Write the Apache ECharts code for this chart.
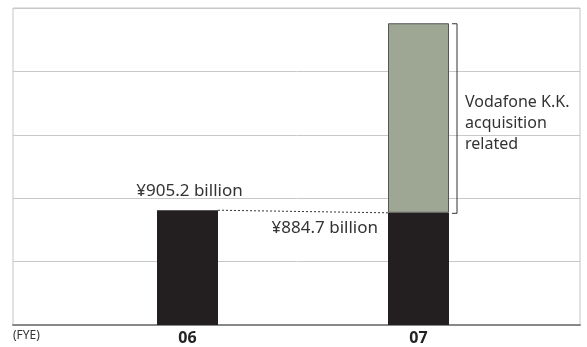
<!DOCTYPE html>
<html><head><meta charset="utf-8">
<script src="https://cdn.jsdelivr.net/npm/echarts@6/dist/echarts.min.js"></script>
<style>html,body{margin:0;padding:0;background:#fff}#c{width:587px;height:347px}</style>
</head><body><div id="c"></div>
<script>
const categories = ['06', '07'];
const baseValues = [905.2, 884.7];
const acquisitionValues = [null, 1495];
const baseLabels = ['¥905.2 billion', '¥884.7 billion'];
const bracketText = 'Vodafone K.K.\nacquisition\nrelated';
const unitLabel = '(FYE)';
const yMax = 2500, yInterval = 500;

const FONT = '"Noto Sans", "Open Sans", sans-serif';
const chart = echarts.init(document.getElementById('c'), null, {renderer: 'canvas'});
const BW = 61;
const option = {
  animation: false,
  grid: [
    {left: 13, right: 7, top: 8, bottom: 22, show: true, borderColor: '#c4c4c4', borderWidth: 1, backgroundColor: 'transparent'},
    {left: 72, right: 53, top: 8, bottom: 22}
  ],
  xAxis: [
    {gridIndex: 0, type: 'value', min: 0, max: 1, show: true, axisLabel: {show: false}, axisTick: {show: false}, splitLine: {show: false},
     axisLine: {show: true, lineStyle: {color: '#888', width: 2}}},
    {gridIndex: 1, type: 'category', data: categories, axisLine: {show: false}, axisTick: {show: false},
     axisLabel: {color: '#222', fontWeight: 'bold', fontSize: 16, fontFamily: FONT, margin: 5}}
  ],
  yAxis: [
    {gridIndex: 0, type: 'value', min: 0, max: yMax, interval: yInterval, axisLabel: {show: false}, axisLine: {show: false}, axisTick: {show: false},
     splitLine: {lineStyle: {color: '#c8c8c8', width: 1}}},
    {gridIndex: 1, type: 'value', min: 0, max: yMax, interval: yInterval, show: false, splitLine: {show: false}}
  ],
  series: [
    {type: 'bar', xAxisIndex: 1, yAxisIndex: 1, stack: 's', barWidth: BW, data: baseValues.map((v, i) => ({
        value: v,
        label: i === 0
          ? {show: true, formatter: baseLabels[0], position: [BW / 2 + 2, -19], align: 'center', verticalAlign: 'middle', fontSize: 17, color: '#333', fontFamily: FONT}
          : {show: true, formatter: baseLabels[1], position: [-10, 15], align: 'right', verticalAlign: 'middle', fontSize: 17, color: '#333', fontFamily: FONT}
      })),
     itemStyle: {color: '#231f20'}},
    {type: 'bar', xAxisIndex: 1, yAxisIndex: 1, stack: 's', barWidth: BW, data: acquisitionValues,
     itemStyle: {color: '#9ea694', borderColor: '#555', borderWidth: 1}}
  ]
};
chart.setOption(option);

const p0 = chart.convertToPixel({xAxisIndex: 1, yAxisIndex: 1}, [0, baseValues[0]]);
const p1 = chart.convertToPixel({xAxisIndex: 1, yAxisIndex: 1}, [1, baseValues[1]]);
const pTop = chart.convertToPixel({xAxisIndex: 1, yAxisIndex: 1}, [1, baseValues[1] + acquisitionValues[1]]);
const bx = p1[0] + BW / 2 + 8;
chart.setOption({
  graphic: [
    {type: 'line', shape: {x1: p0[0] + BW / 2, y1: p0[1], x2: p1[0] - BW / 2, y2: p1[1]},
     style: {stroke: '#333', lineWidth: 1, lineDash: [2, 2]}},
    {type: 'polyline', shape: {points: [[bx - 5, pTop[1] + 0.5], [bx, pTop[1] + 0.5], [bx, p1[1] + 0.5], [bx - 5, p1[1] + 0.5]]},
     style: {stroke: '#333', lineWidth: 1, fill: null}},
    {type: 'text', left: bx + 8, top: 92, style: {text: bracketText, font: '16px ' + FONT, fill: '#333', lineHeight: 21}},
    {type: 'text', left: 13, top: 330, style: {text: unitLabel, font: '12px ' + FONT, fill: '#333'}}
  ]
});
</script></body></html>
